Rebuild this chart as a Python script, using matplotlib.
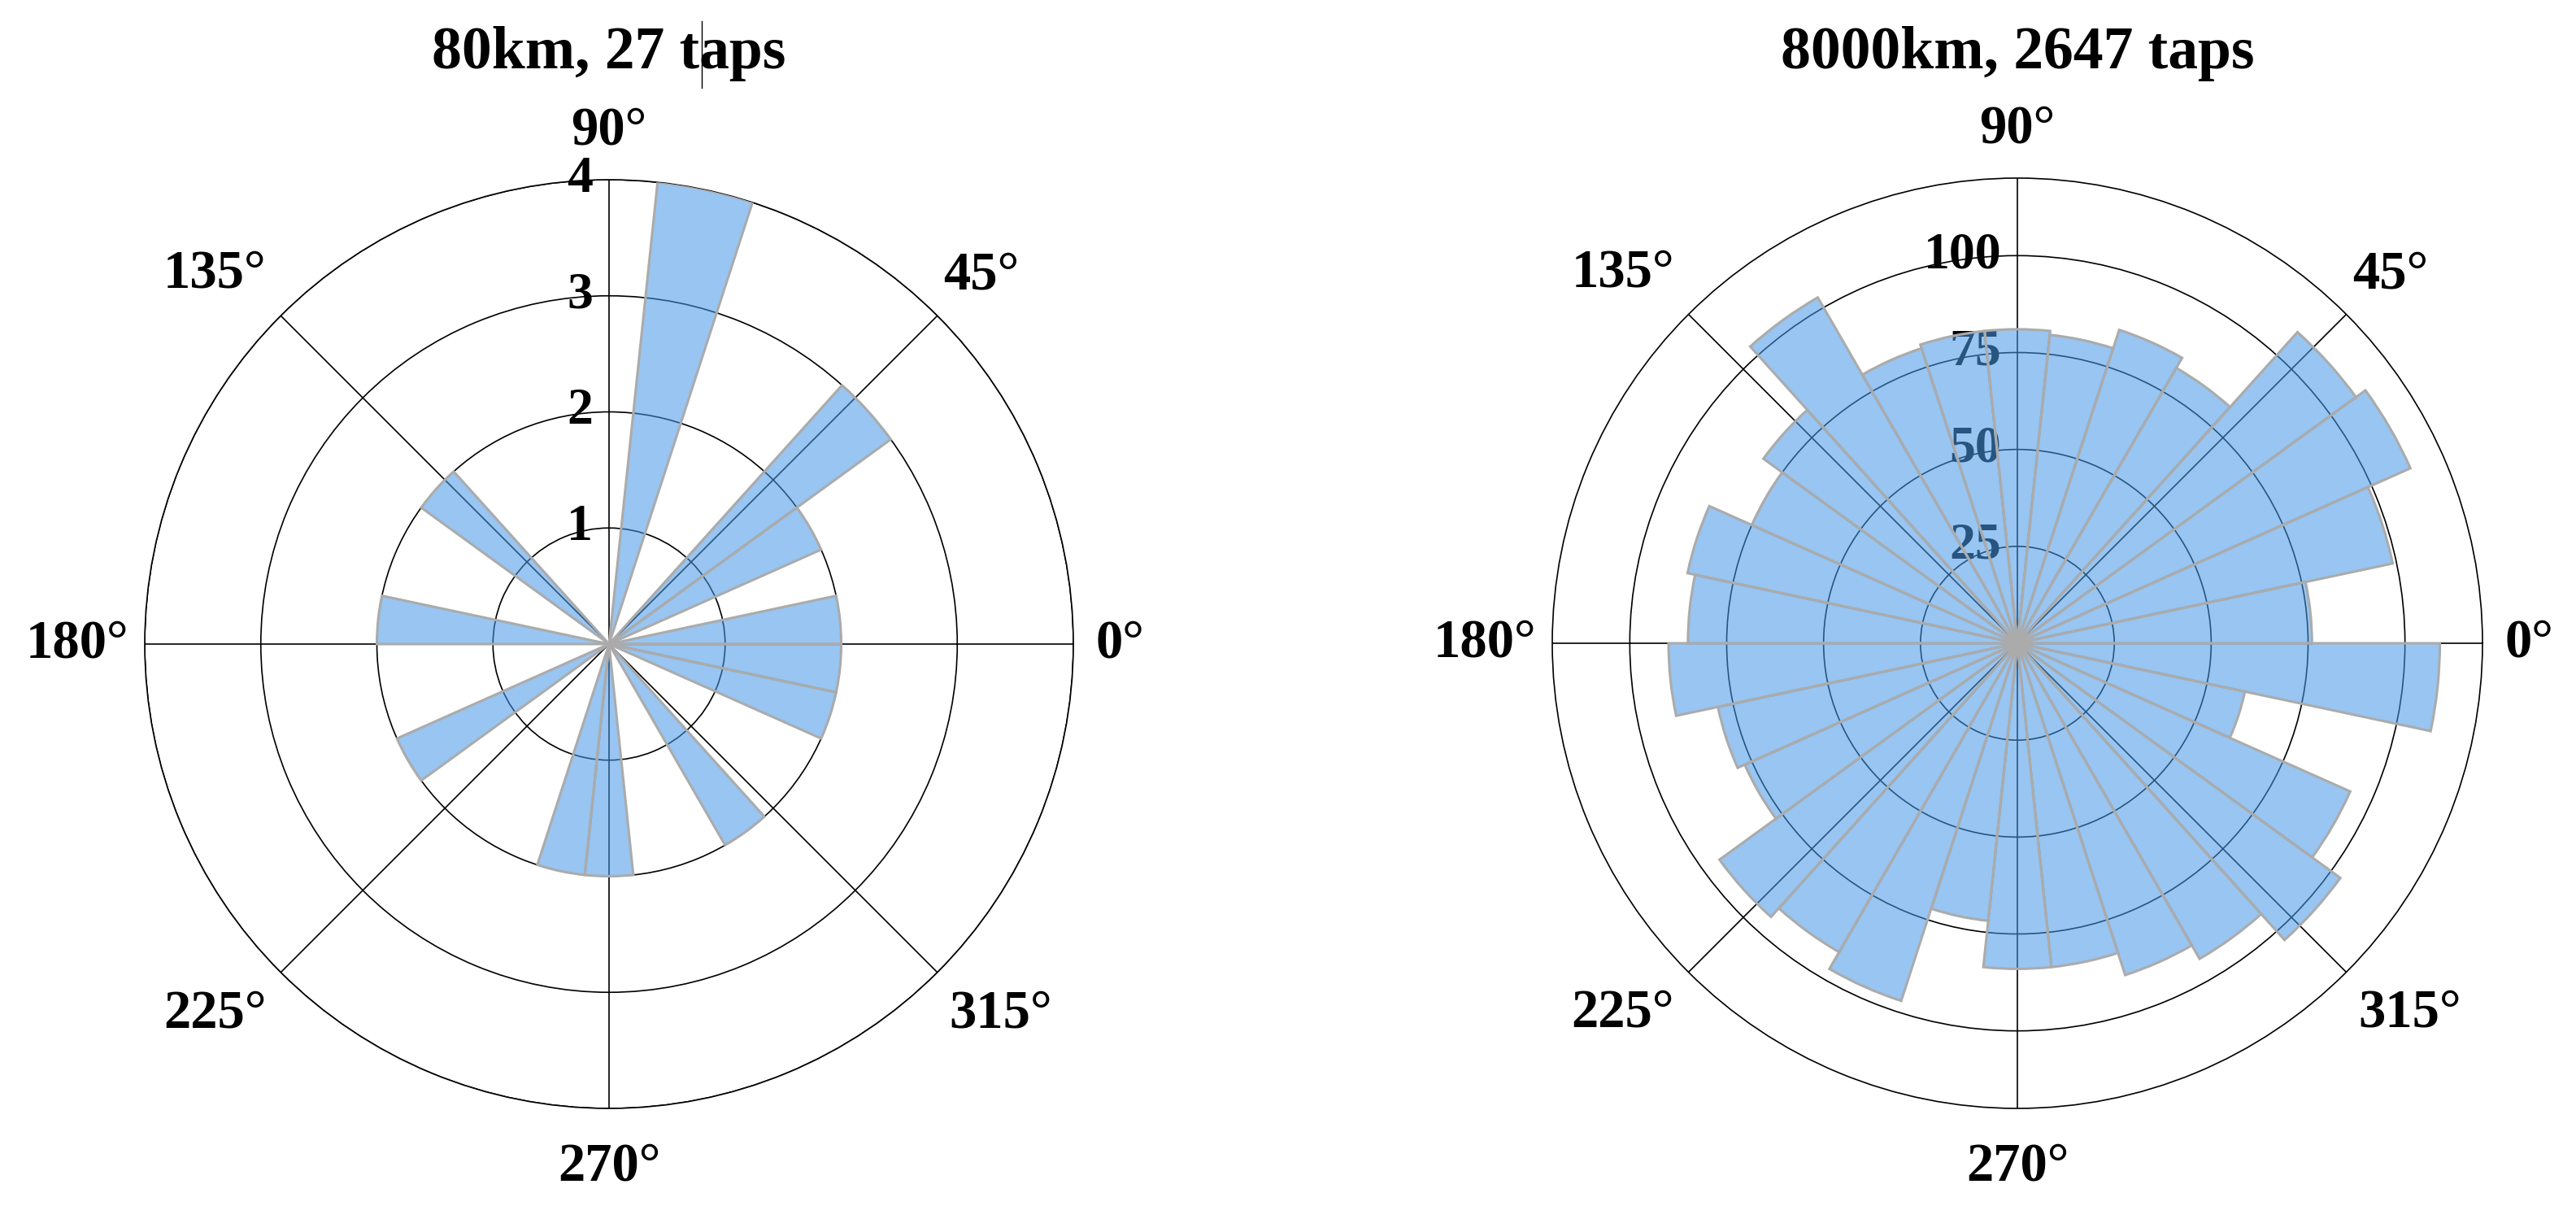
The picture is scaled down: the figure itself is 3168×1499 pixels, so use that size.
import numpy as np
import matplotlib
matplotlib.use('Agg')
import matplotlib.pyplot as plt
from matplotlib.transforms import offset_copy
from matplotlib.lines import Line2D

plt.rcParams['font.family'] = ['Liberation Serif', 'DejaVu Serif']
plt.rcParams['font.weight'] = 'bold'

# 12 degree bins, counts per bin (0-12, 12-24, ... 348-360)
bin_width_deg = 12
counts_80km = [2, 0, 2, 3, 0, 0, 4, 0, 0, 0, 0, 2, 0, 0, 2,
               0, 0, 2, 0, 0, 0, 2, 2, 0, 0, 2, 0, 0, 2, 2]
counts_8000km = [76, 99, 111, 108, 82, 85, 80, 81, 81, 80, 103, 81, 75, 87, 85,
                 90, 79, 77, 95, 92, 97, 72, 84, 84, 90, 94, 103, 94, 60, 109]

titles = ['80km, 27 taps', '8000km, 2647 taps']
rticks_80km = [1, 2, 3, 4]
rticks_8000km = [25, 50, 75, 100]
rmax_80km = 4
rmax_8000km = 120
theta_ticks = [0, 45, 90, 135, 180, 225, 270, 315]
# offset (px) of each angle label centre from the point on the outer circle
label_off = {0: (57, 0), 45: (54, 49), 90: (0, 60), 135: (-81, 51),
             180: (-83, 0), 225: (-81, -51), 270: (0, -72), 315: (78, -51)}

face = (0.28, 0.60, 0.90, 0.56)
edge = '#ababab'

fig = plt.figure(figsize=(31.68, 14.99), dpi=100)

rects = [[0.05619, 0.09073, 0.36048, 0.76184],
         [0.60259, 0.09073, 0.36111, 0.76317]]
datasets = [(counts_80km, rticks_80km, rmax_80km),
            (counts_8000km, rticks_8000km, rmax_8000km)]

title_texts = []
for rect, (counts, rticks, rmax), title in zip(rects, datasets, titles):
    ax = fig.add_axes(rect, projection='polar')
    n = len(counts)
    centers = np.deg2rad(np.arange(n) * bin_width_deg + bin_width_deg / 2)
    ax.bar(centers, counts, width=np.deg2rad(bin_width_deg), bottom=0,
           facecolor=face, edgecolor=edge, linewidth=2.2, zorder=5)
    ax.set_ylim(0, rmax)
    ax.set_yticks(rticks)
    ax.set_yticklabels([])
    ax.set_xticks(np.deg2rad(theta_ticks))
    ax.set_xticklabels([])
    ax.set_axisbelow(True)
    ax.grid(True, color='black', linewidth=1.2)
    ax.spines['polar'].set_color('black')
    ax.spines['polar'].set_linewidth(1.2)

    for t in theta_ticks:
        dx, dy = label_off[t]
        tr = offset_copy(ax.transData, fig=fig, x=dx, y=dy, units='dots')
        ax.text(np.deg2rad(t), rmax, f'{t}°', transform=tr, ha='center', va='center',
                fontsize=48, fontweight='bold', clip_on=False)

    tr = offset_copy(ax.transData, fig=fig, x=-20, y=0, units='dots')
    for r in rticks:
        ax.text(np.pi / 2, r, str(r), transform=tr, ha='right', va='center',
                fontsize=46, fontweight='bold', color='black', zorder=3)

    cx = rect[0] + rect[2] / 2
    title_texts.append(fig.text(cx, 1 - 66 / 1499, title, ha='center', va='center',
                                fontsize=53, fontweight='bold'))

# thin text-cursor bar inside the first title, between "t" and "aps"
renderer = fig.canvas.get_renderer()
tt = title_texts[0]
bb = tt.get_window_extent(renderer)
probe = fig.text(0, 0, '80km, 27 t', fontsize=53, fontweight='bold')
pw = probe.get_window_extent(renderer).width
probe.remove()
xc = (bb.x0 + pw + 3) / fig.bbox.width
fig.add_artist(Line2D([xc, xc], [(bb.y0 - 8) / fig.bbox.height, (bb.y1 + 6) / fig.bbox.height],
                      color='black', linewidth=1.0, transform=fig.transFigure))

fig.savefig('out.png', dpi=100, facecolor='white')
